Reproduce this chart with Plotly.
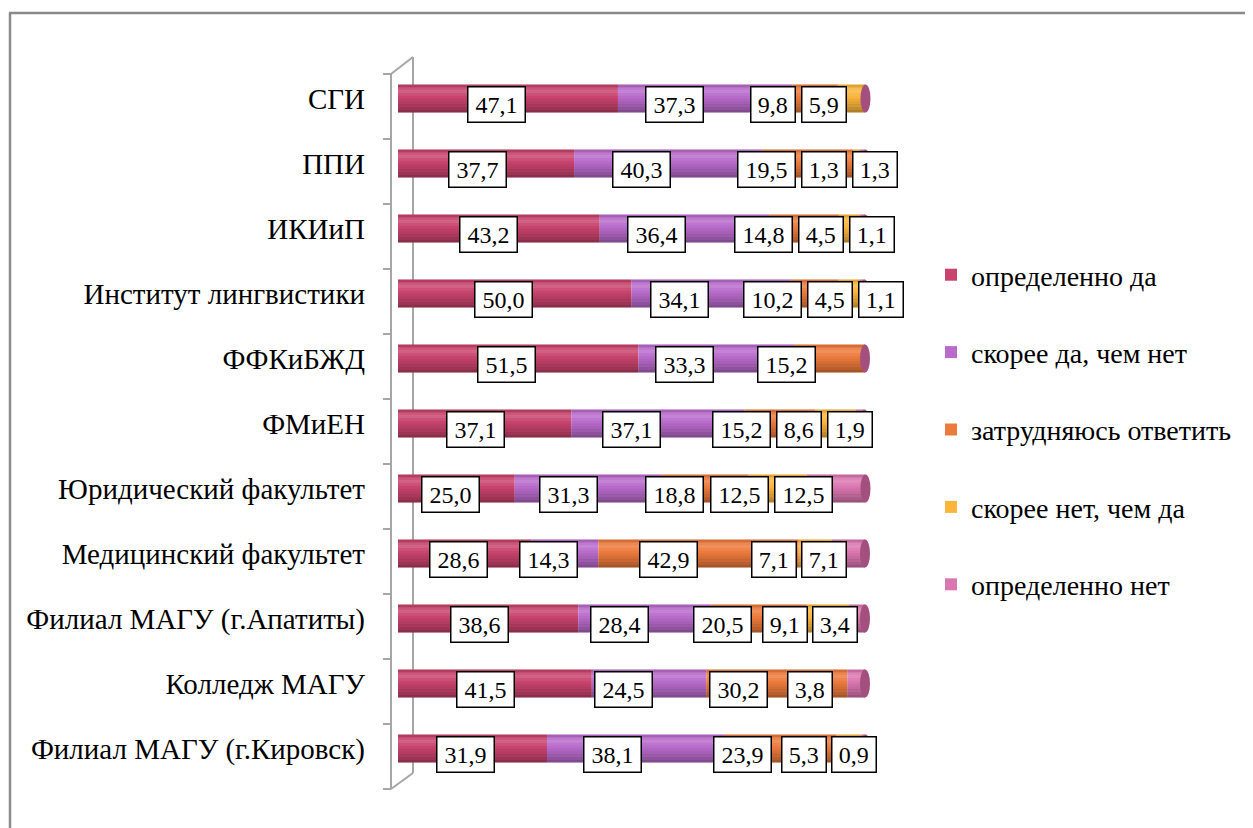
import plotly.graph_objects as go

categories = ["СГИ", "ППИ", "ИКИиП", "Институт лингвистики", "ФФКиБЖД", "ФМиЕН",
              "Юридический факультет", "Медицинский факультет",
              "Филиал МАГУ (г.Апатиты)", "Колледж МАГУ", "Филиал МАГУ (г.Кировск)"]

series_names = ["определенно да", "скорее да, чем нет", "затрудняюсь ответить",
                "скорее нет, чем да", "определенно нет"]

definitely_yes = [47.1, 37.7, 43.2, 50.0, 51.5, 37.1, 25.0, 28.6, 38.6, 41.5, 31.9]
rather_yes     = [37.3, 40.3, 36.4, 34.1, 33.3, 37.1, 31.3, 14.3, 28.4, 24.5, 38.1]
hard_to_say    = [9.8, 19.5, 14.8, 10.2, 15.2, 15.2, 18.8, 42.9, 20.5, 30.2, 23.9]
rather_no      = [5.9, 1.3, 4.5, 4.5, 0.0, 8.6, 12.5, 7.1, 9.1, 0.0, 5.3]
definitely_no  = [0.0, 1.3, 1.1, 1.1, 0.0, 1.9, 12.5, 7.1, 3.4, 3.8, 0.9]

series_values = [definitely_yes, rather_yes, hard_to_say, rather_no, definitely_no]
bar_colors = ["#C8436D", "#B86BCB", "#EC7A3C", "#F9B53C", "#DA76B0"]

OFF = 8
W, H = 1245, 820
PAGE_L, PAGE_R, PAGE_T, PAGE_B = 398, 865, 66, 781
ML = PAGE_L - OFF
PW = PAGE_R - PAGE_L
MR = W - ML - PW
MT = PAGE_T - OFF
PH = PAGE_B - PAGE_T
MB = H - MT - PH

def px_x(px):
    return (px - PAGE_L) / PW

def px_y(py):
    return (PAGE_B - py) / PH

FONT = "'Times New Roman', 'Liberation Serif', 'DejaVu Serif', serif"
BAR_W = 0.43
N = len(categories)

fig = go.Figure()

bases = [0.0] * N
seg_info = []
for name, vals, col in zip(series_names, series_values, bar_colors):
    fig.add_trace(go.Bar(
        y=categories, x=vals, base=list(bases), orientation="h", name=name,
        marker=dict(color=col, line=dict(width=0)), width=BAR_W,
        legendgroup=name, showlegend=True,
    ))
    seg_info.append([(b, v) for b, v in zip(bases, vals)])
    bases = [b + v for b, v in zip(bases, vals)]

totals = bases

band_alphas = [("0,0,0", 0.10), ("255,255,255", 0.10), ("255,255,255", 0.16),
               ("255,255,255", 0.08), ("0,0,0", 0.0), ("0,0,0", 0.05),
               ("0,0,0", 0.10), ("0,0,0", 0.15), ("0,0,0", 0.22), ("0,0,0", 0.30)]
nb = len(band_alphas)
bw = BAR_W / nb
for k, (rgb, a) in enumerate(band_alphas):
    if a <= 0:
        continue
    fig.add_trace(go.Bar(y=categories, x=totals, base=[0] * N, orientation="h",
                         width=bw * 1.02, offset=-BAR_W / 2 + k * bw,
                         marker=dict(color=f"rgba({rgb},{a})", line=dict(width=0)),
                         showlegend=False, hoverinfo="skip"))

shapes = []

for i in range(N):
    xe = totals[i] / 100
    yc = 1 - (i + 0.5) / N
    hh = BAR_W / 2 / N
    shapes.append(dict(type="circle", xref="paper", yref="paper",
                       x0=xe - 5 / PW, x1=xe + 5 / PW, y0=yc - hh, y1=yc + hh,
                       fillcolor="#A4507F", line=dict(width=0), layer="above"))

LABEL_FONT = 24
PAD = 4
BWID = 1.5
annotations = []
for ci, cat in enumerate(categories):
    placed_right = None
    for si in range(len(series_names)):
        start, val = seg_info[si][ci]
        if val <= 0:
            continue
        txt = f"{val:.1f}".replace(".", ",")
        ndig = sum(ch.isdigit() for ch in txt)
        tw = 13.3 * ndig + 7 + 1
        box_w = tw + 2 * PAD + 2 * BWID
        centre_px = PAGE_L + 0.9 * (start + val / 2) / 100 * PW
        if placed_right is not None and centre_px - box_w / 2 < placed_right + 5:
            centre_px = placed_right + 5 + box_w / 2
        placed_right = centre_px + box_w / 2
        annotations.append(dict(
            x=px_x(centre_px), y=1 - (ci + 0.5) / N, xref="paper", yref="paper", text=txt,
            showarrow=False, yshift=-6, width=tw, height=26,
            font=dict(family=FONT, size=LABEL_FONT, color="black"),
            bgcolor="white", bordercolor="black", borderwidth=BWID, borderpad=PAD,
            xanchor="center", yanchor="middle",
        ))

GREY = "#A6A6A6"
def line(x0, y0, x1, y1, color=GREY, width=2, layer="below"):
    shapes.append(dict(type="line", xref="paper", yref="paper",
                       x0=px_x(x0), y0=px_y(y0), x1=px_x(x1), y1=px_y(y1),
                       line=dict(color=color, width=width), layer=layer))

line(391, 74, 391, 789)
line(413, 57, 413, 773)
line(391, 74, 413, 57)
line(391, 789, 413, 773)
for k in range(N + 1):
    yy = 74 + k * (789 - 74) / N
    line(383, yy, 391, yy)

line(9, 13, 1260, 13, color="#8A8A8A", width=2.5, layer="above")
line(10, 13, 10, 840, color="#8A8A8A", width=2.5, layer="above")

fig.update_layout(
    width=W, height=H,
    margin=dict(l=ML, r=MR, t=MT, b=MB, pad=0),
    paper_bgcolor="white", plot_bgcolor="white",
    barmode="overlay",
    font=dict(family=FONT, size=24, color="black"),
    xaxis=dict(range=[0, 100], visible=False, fixedrange=True),
    yaxis=dict(categoryorder="array", categoryarray=categories, autorange="reversed",
               showgrid=False, zeroline=False, showline=False, ticks="",
               ticklabelstandoff=32, tickfont=dict(family=FONT, size=29, color="black")),
    legend=dict(x=px_x(931), y=px_y(250), xanchor="left", yanchor="top",
                traceorder="grouped", tracegroupgap=38,
                font=dict(family=FONT, size=28, color="black"),
                itemwidth=30, bgcolor="rgba(0,0,0,0)"),
    annotations=annotations,
    shapes=shapes,
    showlegend=True,
)

fig.write_html("out.html")
